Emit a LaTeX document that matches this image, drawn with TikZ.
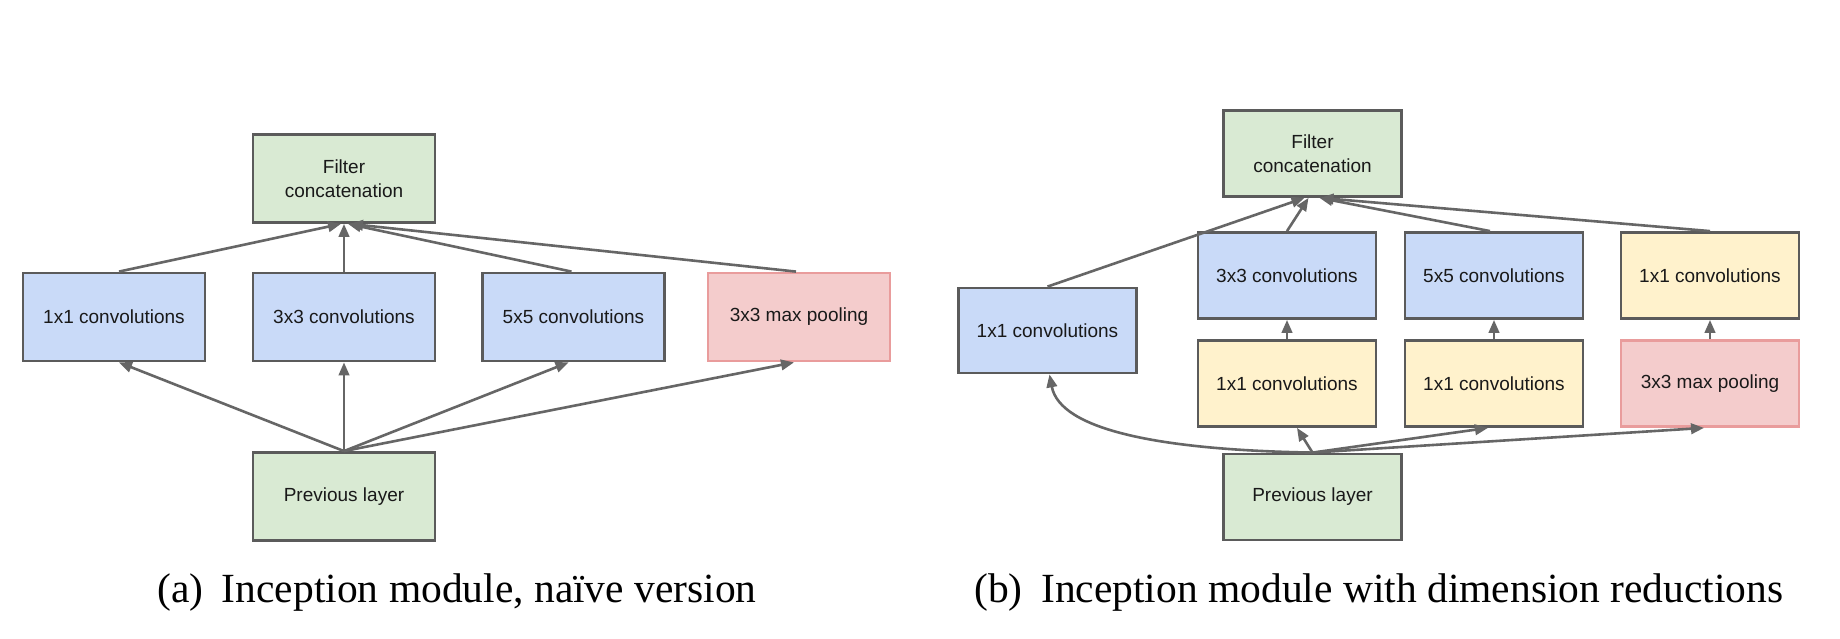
\documentclass[tikz,border=0pt]{standalone}
\usepackage{fontspec}
\setmainfont{Liberation Serif}
\setsansfont{Liberation Sans}
\usetikzlibrary{arrows.meta}
\definecolor{gfill}{HTML}{D9EAD3}
\definecolor{bfill}{HTML}{C9DAF8}
\definecolor{rfill}{HTML}{F4CCCC}
\definecolor{rdraw}{HTML}{E99C9C}
\definecolor{yfill}{HTML}{FFF2CC}
\definecolor{bord}{HTML}{5B5B5B}
\definecolor{arrc}{HTML}{666666}
\begin{document}
\begin{tikzpicture}[x=1pt,y=-1pt,
  box/.style={draw=bord, line width=2.8pt, rectangle, align=center,
    font=\sffamily\fontsize{19}{23.5}\selectfont, text=black!90, inner sep=0pt},
  boxa/.style={box, minimum width=182pt, minimum height=88pt},
  boxb/.style={box, minimum width=178pt, minimum height=86pt},
  gbox/.style={fill=gfill},
  bbox/.style={fill=bfill},
  ybox/.style={fill=yfill},
  rbox/.style={fill=rfill, draw=rdraw},
  link/.style={draw=arrc, line width=2.6pt, -{Triangle[length=13pt,width=10.5pt]}},
  captxt/.style={anchor=base west, font=\fontsize{41.5}{48}\selectfont, inner sep=0pt}
]
\fill[white] (0,0) rectangle (1840,639);
\useasboundingbox (0,0) rectangle (1840,639);

% ---------- (a) ----------
\node[boxa,gbox] (catA) at (344,178.5) {Filter\\concatenation};
\node[boxa,bbox] (a1) at (114,317) {1x1 convolutions};
\node[boxa,bbox] (a3) at (344,317) {3x3 convolutions};
\node[boxa,bbox] (a5) at (573.5,317) {5x5 convolutions};
\node[boxa,rbox] (ap) at (799,317) {3x3 max pooling};
\node[boxa,gbox] (prevA) at (344,496.5) {Previous layer};

\draw[link] ([xshift=5pt]a1.north) -- ([xshift=-3pt]catA.south);
\draw[link] (a3.north) -- (catA.south);
\draw[link] ([xshift=-2pt]a5.north) -- ([xshift=4pt]catA.south);
\draw[link] ([xshift=-3pt]ap.north) -- ([xshift=6pt]catA.south);

\draw[link] (prevA.north) -- ([xshift=5pt]a1.south);
\draw[link] (prevA.north) -- (a3.south);
\draw[link] (prevA.north) -- ([xshift=-5pt]a5.south);
\draw[link] (prevA.north) -- ([xshift=-5pt]ap.south);

% ---------- (b) ----------
\node[boxb,gbox] (catB) at (1312.5,153.5) {Filter\\concatenation};
\node[boxb,bbox,minimum height=85pt] (b1) at (1047.5,330.5) {1x1 convolutions};
\node[boxb,bbox] (b3) at (1287,275.5) {3x3 convolutions};
\node[boxb,bbox] (b5) at (1494,275.5) {5x5 convolutions};
\node[boxb,ybox] (bp1) at (1710,275.5) {1x1 convolutions};
\node[boxb,ybox] (r3) at (1287,383.5) {1x1 convolutions};
\node[boxb,ybox] (r5) at (1494,383.5) {1x1 convolutions};
\node[boxb,rbox] (bp) at (1710,383.5) {3x3 max pooling};
\node[boxb,gbox] (prevB) at (1312.5,497) {Previous layer};

\draw[link] (b1.north) -- ([xshift=-8pt]catB.south);
\draw[link] (b3.north) -- ([xshift=-4pt]catB.south);
\draw[link] ([xshift=-4pt]b5.north) -- ([xshift=7pt]catB.south);
\draw[link] (bp1.north) -- ([xshift=8pt]catB.south);

\draw[link] (r3.north) -- (b3.south);
\draw[link] (r5.north) -- (b5.south);
\draw[link] (bp.north) -- (bp1.south);

\draw[link] (prevB.north) .. controls (1160,450) and (1060,430) .. ([xshift=2pt]b1.south);
\draw[link] (prevB.north) -- ([xshift=10pt]r3.south);
\draw[link] (prevB.north) -- ([xshift=-6pt]r5.south);
\draw[link] (prevB.north) -- ([xshift=-6pt]bp.south);

% ---------- captions ----------
\node[captxt] (capA) at (157,602) {(a)\hspace{0.45em}Inception module, naïve version};
\node[captxt] (capB) at (974,602) {(b)\hspace{0.45em}Inception module with dimension reductions};
\end{tikzpicture}
\end{document}
